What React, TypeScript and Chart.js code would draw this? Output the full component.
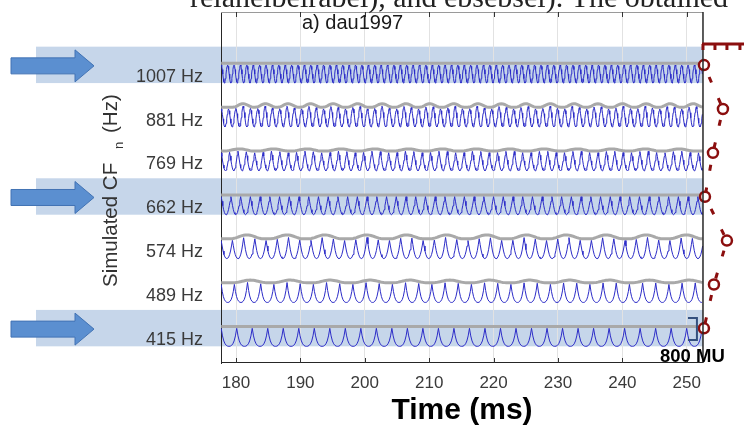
import React, { useEffect, useRef } from 'react';
import { Chart, registerables } from 'chart.js';

Chart.register(...registerables);

// ---------- data ----------
const rowLabels = ['1007 Hz', '881 Hz', '769 Hz', '662 Hz', '574 Hz', '489 Hz', '415 Hz'];
const rowFreqHz = [1007, 881, 769, 662, 574, 489, 415];
const highlightedRows = ['1007 Hz', '662 Hz', '415 Hz'];
const xTickValues = [180, 190, 200, 210, 220, 230, 240, 250];
const timeStartMs = 177.7;
const timeEndMs = 252.5;
const panelEndMs = 252.52;

// one cycle of each response (12 samples, 0 = top of trace, 1 = bottom)
const cycle1007 = [0, 0.07, 0.25, 0.5, 0.75, 0.93, 1, 0.93, 0.75, 0.5, 0.25, 0.07];
const cycle881 = [0, 0.1, 0.3, 0.55, 0.8, 0.95, 1, 0.95, 0.8, 0.55, 0.3, 0.1];
const cycle769 = [0, 0.2, 0.45, 0.68, 0.85, 0.96, 1, 0.96, 0.85, 0.68, 0.45, 0.2];
const cycle662 = [0, 0.25, 0.5, 0.72, 0.88, 0.97, 1, 0.97, 0.88, 0.72, 0.5, 0.25];
const cycle574 = [0, 0.3, 0.58, 0.78, 0.91, 0.98, 1, 0.98, 0.91, 0.78, 0.58, 0.3];
const cycle489 = [0, 0.4, 0.68, 0.85, 0.94, 0.99, 1, 0.99, 0.94, 0.85, 0.68, 0.4];
const cycle415 = [0, 0.42, 0.7, 0.86, 0.95, 0.99, 1, 0.99, 0.95, 0.86, 0.7, 0.42];
const cycleShapes = [cycle1007, cycle881, cycle769, cycle662, cycle574, cycle489, cycle415];

// bumps of the grey envelope (ms)
const bumps881 = [181.1, 184.6, 188.1, 191.6, 195.1, 198.9, 202.7, 206.4, 210.1, 213.8, 217.6, 221.2, 225.0, 228.8, 232.5, 236.2, 240.0, 243.7, 247.4, 251.0];
const bumps769 = [180.5, 185.8, 191.0, 196.3, 201.5, 206.8, 212.0, 217.3, 222.5, 227.8, 233.0, 238.3, 243.5, 248.8];
const bumps574 = [181.7, 187.9, 193.8, 200.3, 206.5, 212.7, 218.9, 225.1, 231.3, 237.5, 243.7, 249.9];
const bumps489 = [182.2, 188.4, 194.6, 200.8, 207.0, 213.2, 219.4, 225.6, 231.8, 238.0, 244.2, 250.4];
const envelopeBumpTimes = [[], bumps881, bumps769, [], bumps574, bumps489, []];
const envelopeBumpHeight = [0, 0.08, 0.05, 0, 0.09, 0.06, 0];
const envelopeBumpWidthMs = [1, 1.6, 2.4, 1, 2.6, 2.6, 1];

// red phase markers to the right of the panel (ms on the time axis)
const markerTimeMs = [252.67, 255.62, 254.07, 252.83, 256.24, 254.22, 252.67];
const combTimesMs = [252.52, 254.38, 256.24, 258.26];
const scaleBarLabel = '800 MU';

// ---------- helpers ----------
const rowValue = (j: number) => rowLabels.length - 1 - j;
const TRACE_TOP = 0.19;
const TRACE_BOTTOM = -0.22;

function bumpAt(j: number, t: number) {
  let s = 0;
  const w = envelopeBumpWidthMs[j];
  for (const tb of envelopeBumpTimes[j]) {
    const d = Math.abs(t - tb) / w;
    if (d < 1) s = Math.max(s, 0.5 * (1 + Math.cos(Math.PI * d)));
  }
  return s * envelopeBumpHeight[j];
}

function buildTrace(j: number) {
  const period = 1000 / rowFreqHz[j];
  const shape = cycleShapes[j];
  const dt = period / shape.length;
  const k = rowValue(j);
  const pts: { x: number; y: number }[] = [];
  for (let i = 0; ; i++) {
    const t = timeStartMs + i * dt;
    if (t > timeEndMs) break;
    const top = k + TRACE_TOP + 0.8 * bumpAt(j, t);
    const bot = k + TRACE_BOTTOM;
    pts.push({ x: t, y: top - shape[i % shape.length] * (top - bot) });
  }
  return pts;
}

function buildEnvelope(j: number) {
  const k = rowValue(j);
  const pts: { x: number; y: number }[] = [];
  for (let t = timeStartMs; t <= timeEndMs + 1e-6; t += 0.25) {
    pts.push({ x: t, y: k + TRACE_TOP + 0.04 + bumpAt(j, t) });
  }
  return pts;
}

const FONT = '"Liberation Sans", Arial, sans-serif';

const decorPlugin = {
  id: 'decor',
  beforeDraw(chart: any) {
    const { ctx, scales } = chart;
    const y = scales.y;
    const x = scales.x;
    const pr = x.getPixelForValue(panelEndMs);
    ctx.save();
    ctx.fillStyle = '#ffffff';
    ctx.fillRect(0, 0, chart.width, chart.height);
    ctx.fillStyle = '#c6d6ea';
    highlightedRows.forEach((lbl) => {
      const k = rowValue(rowLabels.indexOf(lbl));
      const top = y.getPixelForValue(k + 0.61);
      const bot = y.getPixelForValue(k - 0.22);
      ctx.fillRect(36, top, pr - 36, bot - top);
    });
    ctx.restore();
  },
  afterDraw(chart: any) {
    const { ctx, chartArea, scales } = chart;
    const x = scales.x;
    const y = scales.y;
    const { left, top, bottom } = chartArea;
    const right = x.getPixelForValue(panelEndMs);
    ctx.save();

    // frame: top, bottom, right borders
    ctx.strokeStyle = '#9a9a9a';
    ctx.lineWidth = 1;
    ctx.beginPath();
    ctx.moveTo(left, Math.round(top) + 0.5);
    ctx.lineTo(right, Math.round(top) + 0.5);
    ctx.stroke();
    ctx.strokeStyle = '#262626';
    ctx.beginPath();
    ctx.moveTo(left, Math.round(bottom) - 0.5);
    ctx.lineTo(right, Math.round(bottom) - 0.5);
    ctx.stroke();
    ctx.lineWidth = 1.5;
    ctx.beginPath();
    ctx.moveTo(right, top);
    ctx.lineTo(right, bottom);
    ctx.stroke();

    // inward ticks
    ctx.strokeStyle = '#333';
    ctx.lineWidth = 1;
    xTickValues.forEach((v) => {
      const px = Math.round(x.getPixelForValue(v)) + 0.5;
      ctx.beginPath();
      ctx.moveTo(px, top);
      ctx.lineTo(px, top + 5);
      ctx.moveTo(px, bottom);
      ctx.lineTo(px, bottom - 5);
      ctx.stroke();
    });

    // arrows
    highlightedRows.forEach((lbl) => {
      const k = rowValue(rowLabels.indexOf(lbl));
      const cy = (y.getPixelForValue(k + 0.61) + y.getPixelForValue(k - 0.22)) / 2 + 1;
      ctx.beginPath();
      ctx.moveTo(11, cy - 8);
      ctx.lineTo(75, cy - 8);
      ctx.lineTo(75, cy - 16);
      ctx.lineTo(94, cy);
      ctx.lineTo(75, cy + 16);
      ctx.lineTo(75, cy + 8);
      ctx.lineTo(11, cy + 8);
      ctx.closePath();
      ctx.fillStyle = '#5b8fd0';
      ctx.fill();
      ctx.strokeStyle = '#4273b4';
      ctx.lineWidth = 1;
      ctx.stroke();
    });

    // y title with subscript
    ctx.save();
    ctx.translate(117, 287);
    ctx.rotate(-Math.PI / 2);
    ctx.fillStyle = '#333';
    ctx.textBaseline = 'alphabetic';
    ctx.textAlign = 'left';
    ctx.font = `20.5px ${FONT}`;
    ctx.fillText('Simulated CF', 0, 0);
    ctx.font = `13px ${FONT}`;
    ctx.fillText('n', 138, 6);
    ctx.font = `20.5px ${FONT}`;
    ctx.fillText('(Hz)', 154, 0);
    ctx.restore();

    // x title
    ctx.fillStyle = '#000';
    ctx.font = `bold 30px ${FONT}`;
    ctx.textAlign = 'center';
    ctx.textBaseline = 'middle';
    ctx.fillText('Time (ms)', (left + right) / 2, 411);

    // panel title
    ctx.fillStyle = '#1a1a1a';
    ctx.font = `20px ${FONT}`;
    ctx.textAlign = 'left';
    ctx.textBaseline = 'alphabetic';
    ctx.fillText('a) dau1997', 302, 29);

    // clipped line of page text above the figure
    ctx.fillStyle = '#222';
    ctx.font = '30px "Liberation Serif", serif';
    ctx.fillText('relanelbelrabel), and ebsebsel). The obtained', 190, 7);

    // comb at top right
    const combY = y.getPixelForValue(6.67);
    ctx.strokeStyle = '#8b0e0e';
    ctx.lineWidth = 3;
    ctx.beginPath();
    ctx.moveTo(x.getPixelForValue(combTimesMs[0]) - 1, combY);
    ctx.lineTo(chart.width, combY);
    combTimesMs.forEach((t) => {
      const px = x.getPixelForValue(t);
      ctx.moveTo(px, combY);
      ctx.lineTo(px, combY + 6);
    });
    ctx.stroke();

    // scale bar
    const sbx = x.getPixelForValue(251.58);
    const sbl = x.getPixelForValue(250.19);
    const sbt = y.getPixelForValue(0.426);
    const sbb = y.getPixelForValue(-0.076);
    ctx.strokeStyle = '#34507e';
    ctx.lineWidth = 2;
    ctx.beginPath();
    ctx.moveTo(sbl, sbt);
    ctx.lineTo(sbx, sbt);
    ctx.lineTo(sbx, sbb);
    ctx.lineTo(sbl, sbb);
    ctx.stroke();

    ctx.fillStyle = '#000';
    ctx.font = `bold 18.5px ${FONT}`;
    ctx.fillText(scaleBarLabel, 660, 362);

    ctx.restore();
  },
};

export default function App() {
  const canvasRef = useRef<HTMLCanvasElement | null>(null);

  useEffect(() => {
    if (!canvasRef.current) return;
    const envelopeSets = rowLabels.map((lbl, j) => ({
      label: lbl + ' envelope',
      data: buildEnvelope(j),
      borderColor: '#a9a9a9',
      borderWidth: 3,
      pointRadius: 0,
      tension: 0,
      order: 3,
    }));
    const traceSets = rowLabels.map((lbl, j) => ({
      label: lbl,
      data: buildTrace(j),
      borderColor: '#2c2cc8',
      borderWidth: 1,
      pointRadius: 0,
      tension: 0,
      order: 2,
    }));
    const markerSet = {
      label: 'markers',
      data: markerTimeMs.map((t, j) => ({ x: t, y: rowValue(j) + TRACE_TOP })),
      borderColor: '#8b0e0e',
      borderWidth: 3,
      borderDash: [6, 17],
      borderDashOffset: 10,
      pointRadius: 5,
      pointBorderWidth: 2.5,
      pointBorderColor: '#8b0e0e',
      pointBackgroundColor: '#ffffff',
      tension: 0,
      clip: false,
      order: 1,
    };

    const chart = new Chart(canvasRef.current, {
      type: 'line',
      data: { datasets: [markerSet, ...traceSets, ...envelopeSets] as any },
      plugins: [decorPlugin],
      options: {
        animation: false,
        responsive: false,
        maintainAspectRatio: false,
        devicePixelRatio: 1,
        layout: { autoPadding: false, padding: { top: 12, right: 0, left: 0, bottom: 0 } },
        plugins: {
          legend: { display: false },
          tooltip: { enabled: false },
          title: { display: false },
        },
        scales: {
          x: {
            type: 'linear',
            min: 177.67,
            max: 258.89,
            position: 'bottom',
            afterBuildTicks: (axis: any) => {
              axis.ticks = xTickValues.map((v) => ({ value: v }));
            },
            afterFit: (axis: any) => {
              axis.height = 64;
              axis.paddingLeft = 0;
              axis.paddingRight = 0;
            },
            ticks: {
              autoSkip: false,
              maxRotation: 0,
              padding: 10,
              color: '#3a3a3a',
              font: { family: FONT, size: 17 },
            },
            grid: { color: '#e2e2e2', drawTicks: false, lineWidth: 1 },
            border: { display: false },
          },
          y: {
            type: 'linear',
            min: -0.6,
            max: 7.4,
            afterBuildTicks: (axis: any) => {
              axis.ticks = rowLabels.map((_, j) => ({ value: rowValue(j) - 0.075 }));
            },
            afterFit: (axis: any) => {
              axis.width = 221;
              axis.paddingTop = 0;
              axis.paddingBottom = 0;
            },
            ticks: {
              autoSkip: false,
              padding: 18,
              color: '#3a3a3a',
              font: { family: FONT, size: 18 },
              callback: (v: any) => rowLabels[rowLabels.length - 1 - Math.round(Number(v) + 0.075)],
            },
            grid: { display: false, drawTicks: false },
            border: { display: true, color: '#262626', width: 1 },
          },
        },
      } as any,
    });
    return () => chart.destroy();
  }, []);

  return (
    <div style={{ position: 'fixed', left: 0, top: 0, width: 744, height: 427, background: '#fff' }}>
      <canvas ref={canvasRef} width={744} height={427} style={{ width: 744, height: 427, display: 'block' }} />
    </div>
  );
}
